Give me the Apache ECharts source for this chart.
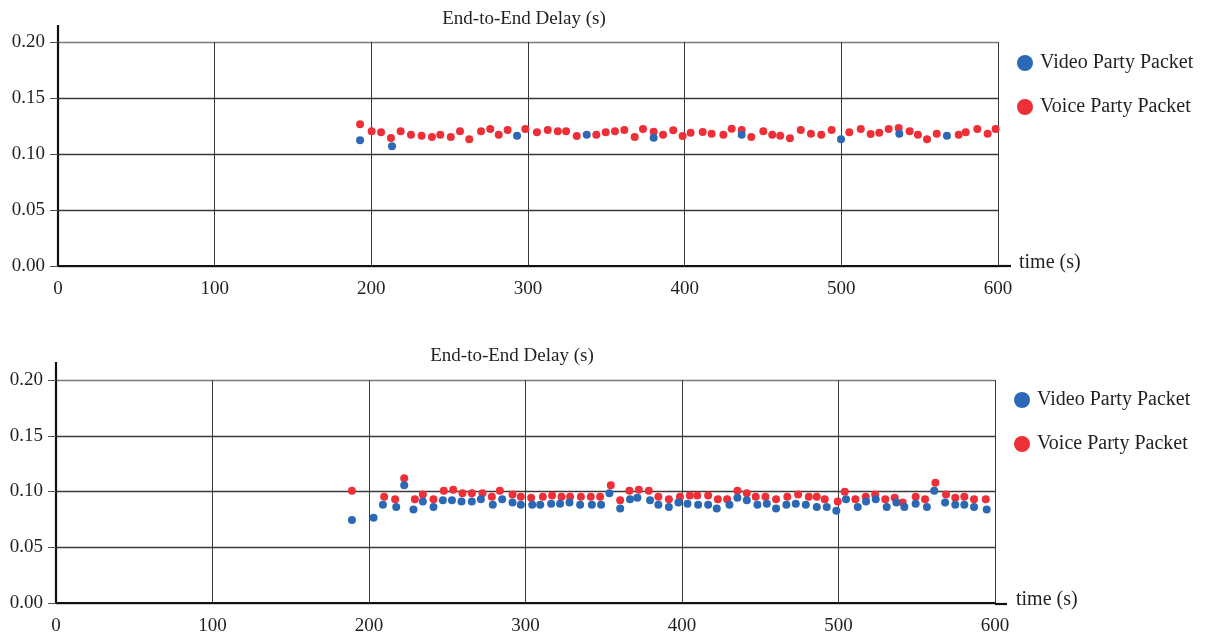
<!DOCTYPE html>
<html>
<head>
<meta charset="utf-8">
<script src="https://cdn.jsdelivr.net/npm/echarts@6/dist/echarts.min.js"></script>
<style>
  html, body { margin: 0; padding: 0; background: #fff; }
  #chart { width: 1205px; height: 636px; }
</style>
</head>
<body>
<div id="chart"></div>
<script>
// top panel: [time (s), delay (s)]
var topVideo = [
  [192.8, 0.1122], [213.2, 0.1069], [293.0, 0.1163], [337.5, 0.1172], [380.2, 0.1146],
  [436.4, 0.1172], [499.8, 0.1131], [537.0, 0.1181], [567.4, 0.1163]
];
var topVoice = [
  [192.8, 0.1265], [200.2, 0.1203], [206.2, 0.1194], [212.5, 0.1143], [218.7, 0.1203],
  [225.3, 0.1172], [232.1, 0.1163], [238.7, 0.1152], [244.0, 0.1172], [250.7, 0.1152],
  [256.6, 0.1203], [262.5, 0.1131], [270.0, 0.1203], [275.9, 0.1223], [281.3, 0.1172],
  [287.0, 0.1214], [298.3, 0.1223], [305.7, 0.1194], [312.6, 0.1214], [319.0, 0.1203],
  [324.3, 0.1203], [331.1, 0.1161], [343.6, 0.1172], [349.6, 0.1194], [355.5, 0.1203],
  [361.5, 0.1214], [368.1, 0.1152], [373.4, 0.1223], [380.2, 0.1199], [386.2, 0.1172],
  [392.7, 0.1212], [398.7, 0.1161], [403.8, 0.1190], [411.5, 0.1196], [417.2, 0.1181],
  [424.7, 0.1172], [430.0, 0.1226], [436.4, 0.1214], [442.5, 0.1152], [450.2, 0.1203],
  [455.9, 0.1172], [461.0, 0.1163], [467.2, 0.1140], [474.1, 0.1214], [480.6, 0.1181],
  [487.2, 0.1172], [493.8, 0.1214], [505.1, 0.1194], [512.4, 0.1223], [518.7, 0.1179],
  [524.2, 0.1190], [530.2, 0.1223], [536.6, 0.1232], [543.6, 0.1203], [548.9, 0.1172],
  [554.7, 0.1131], [560.9, 0.1181], [574.9, 0.1172], [579.4, 0.1194], [586.8, 0.1223],
  [593.4, 0.1181], [598.5, 0.1223]
];

// bottom panel
var botVideo = [
  [189.1, 0.0744], [202.9, 0.0765], [208.9, 0.0881], [217.4, 0.0860], [222.5, 0.1056],
  [228.4, 0.0839], [234.4, 0.0911], [241.2, 0.0860], [247.2, 0.0922], [253.0, 0.0922],
  [259.1, 0.0911], [265.7, 0.0911], [271.5, 0.0931], [279.1, 0.0881], [285.1, 0.0931],
  [291.7, 0.0902], [297.0, 0.0881], [304.3, 0.0881], [309.4, 0.0881], [316.4, 0.0890],
  [322.1, 0.0890], [328.1, 0.0902], [334.9, 0.0881], [342.4, 0.0881], [348.3, 0.0881],
  [353.6, 0.0985], [360.5, 0.0848], [366.8, 0.0931], [371.5, 0.0944], [379.6, 0.0922],
  [384.9, 0.0881], [391.6, 0.0860], [397.7, 0.0902], [403.5, 0.0890], [410.3, 0.0881],
  [416.7, 0.0881], [422.2, 0.0848], [430.3, 0.0881], [435.4, 0.0944], [441.4, 0.0922],
  [448.2, 0.0881], [454.2, 0.0890], [460.1, 0.0848], [466.7, 0.0881], [472.7, 0.0890],
  [479.1, 0.0881], [486.1, 0.0860], [492.5, 0.0860], [498.6, 0.0828], [504.8, 0.0931],
  [512.3, 0.0860], [517.6, 0.0911], [523.8, 0.0931], [530.8, 0.0860], [537.0, 0.0902],
  [542.1, 0.0860], [549.3, 0.0890], [556.5, 0.0860], [561.2, 0.1006], [568.1, 0.0902],
  [574.6, 0.0881], [580.4, 0.0881], [586.6, 0.0860], [594.7, 0.0839]
];
var botVoice = [
  [189.1, 0.1006], [209.7, 0.0953], [216.7, 0.0931], [222.5, 0.1119], [229.3, 0.0931],
  [234.4, 0.0973], [241.2, 0.0931], [247.8, 0.1006], [253.8, 0.1015], [259.7, 0.0985],
  [265.7, 0.0985], [272.5, 0.0985], [278.5, 0.0953], [283.6, 0.1006], [291.7, 0.0973],
  [297.0, 0.0953], [303.6, 0.0944], [311.1, 0.0953], [317.0, 0.0964], [323.0, 0.0953],
  [328.5, 0.0953], [335.4, 0.0953], [341.7, 0.0953], [347.7, 0.0953], [354.5, 0.1056],
  [360.5, 0.0922], [366.4, 0.1006], [372.4, 0.1015], [378.8, 0.1006], [384.9, 0.0953],
  [391.6, 0.0931], [398.7, 0.0953], [405.0, 0.0964], [409.8, 0.0964], [416.7, 0.0964],
  [422.9, 0.0931], [428.8, 0.0931], [435.4, 0.1006], [441.4, 0.0985], [447.1, 0.0953],
  [453.3, 0.0953], [460.1, 0.0931], [467.3, 0.0953], [474.2, 0.0973], [481.0, 0.0953],
  [486.1, 0.0953], [491.2, 0.0931], [499.5, 0.0911], [504.0, 0.0997], [510.8, 0.0931],
  [517.4, 0.0953], [523.4, 0.0973], [529.9, 0.0931], [535.9, 0.0944], [541.0, 0.0902],
  [549.3, 0.0953], [555.3, 0.0931], [561.9, 0.1078], [568.7, 0.0973], [574.6, 0.0944],
  [580.4, 0.0953], [586.6, 0.0931], [594.1, 0.0931]
];

var xTicks = [0, 100, 200, 300, 400, 500, 600];
var yTicks = [0, 0.05, 0.10, 0.15, 0.20];
var names = ['Video Party Packet', 'Voice Party Packet'];
var titleText = 'End-to-End Delay (s)';

var FONT = '"Liberation Serif", "DejaVu Serif", serif';
var INK = '#231f20';
var BLUE = '#2b68b5';
var RED = '#ee2f38';

function xAxisOpt(i) {
  return {
    gridIndex: i, type: 'value',
    min: xTicks[0], max: xTicks[xTicks.length - 1], interval: 100,
    name: 'time (s)', nameLocation: 'end', nameGap: 21,
    nameTextStyle: {
      fontFamily: FONT, fontSize: 20, color: INK,
      verticalAlign: 'bottom', lineHeight: 6
    },
    axisLine: { show: true, onZero: false, lineStyle: { color: '#111', width: 2.2 } },
    axisTick: { show: false },
    axisLabel: { margin: 14, fontFamily: FONT, fontSize: 19, color: INK },
    splitLine: { show: true, lineStyle: { color: '#3a3a3a', width: 1 } }
  };
}
function yAxisOpt(i) {
  return {
    gridIndex: i, type: 'value',
    min: yTicks[0], max: yTicks[yTicks.length - 1], interval: 0.05,
    axisLine: { show: true, lineStyle: { color: '#111', width: 2.2 } },
    axisTick: { show: true, length: 8, lineStyle: { color: '#555', width: 1 } },
    axisLabel: {
      margin: 13, fontFamily: FONT, fontSize: 19, color: INK,
      formatter: function (v) { return v.toFixed(2); }
    },
    splitLine: {
      show: true,
      lineStyle: { color: ['#3a3a3a', '#3a3a3a', '#3a3a3a', '#3a3a3a', '#7a7a7a'], width: 1.3 }
    }
  };
}
function legendOpt(i, left, top) {
  return {
    orient: 'vertical', left: left, top: top,
    itemWidth: 16, itemHeight: 16, itemGap: 24,
    icon: 'circle', data: names,
    textStyle: { fontFamily: FONT, fontSize: 20, color: INK, padding: [0, 0, 0, 2] }
  };
}
function scatter(name, data, color, i, z) {
  return {
    name: name, type: 'scatter', xAxisIndex: i, yAxisIndex: i,
    data: data, symbolSize: 8, z: z,
    itemStyle: { color: color, opacity: 1 },
    emphasis: { disabled: true }
  };
}

var chart = echarts.init(document.getElementById('chart'), null, { renderer: 'canvas' });
chart.setOption({
  animation: false,
  backgroundColor: '#fff',
  title: [
    { text: titleText, left: 519, top: 5, textAlign: 'center',
      textStyle: { fontFamily: FONT, fontSize: 19, fontWeight: 'normal', color: INK } },
    { text: titleText, left: 507, top: 342, textAlign: 'center',
      textStyle: { fontFamily: FONT, fontSize: 19, fontWeight: 'normal', color: INK } }
  ],
  legend: [legendOpt(0, 1012, 48), legendOpt(1, 1009, 385)],
  grid: [
    { left: 58, top: 42, width: 940, height: 224, containLabel: false },
    { left: 56, top: 380, width: 939, height: 224, containLabel: false }
  ],
  xAxis: [xAxisOpt(0), xAxisOpt(1)],
  yAxis: [yAxisOpt(0), yAxisOpt(1)],
  // little overhangs of the axis lines past the plot box
  graphic: [
    { type: 'line', shape: { x1: 58, y1: 25, x2: 58, y2: 42 }, style: { stroke: '#111', lineWidth: 2.2 } },
    { type: 'line', shape: { x1: 998, y1: 266, x2: 1011, y2: 266 }, style: { stroke: '#111', lineWidth: 2.2 } },
    { type: 'line', shape: { x1: 56, y1: 362, x2: 56, y2: 380 }, style: { stroke: '#111', lineWidth: 2.2 } },
    { type: 'line', shape: { x1: 995, y1: 604, x2: 1007, y2: 604 }, style: { stroke: '#111', lineWidth: 2.2 } }
  ],
  series: [
    scatter(names[1], topVoice, RED, 0, 2),
    scatter(names[0], topVideo, BLUE, 0, 3),
    scatter(names[1], botVoice, RED, 1, 2),
    scatter(names[0], botVideo, BLUE, 1, 3)
  ]
});
</script>
</body>
</html>
